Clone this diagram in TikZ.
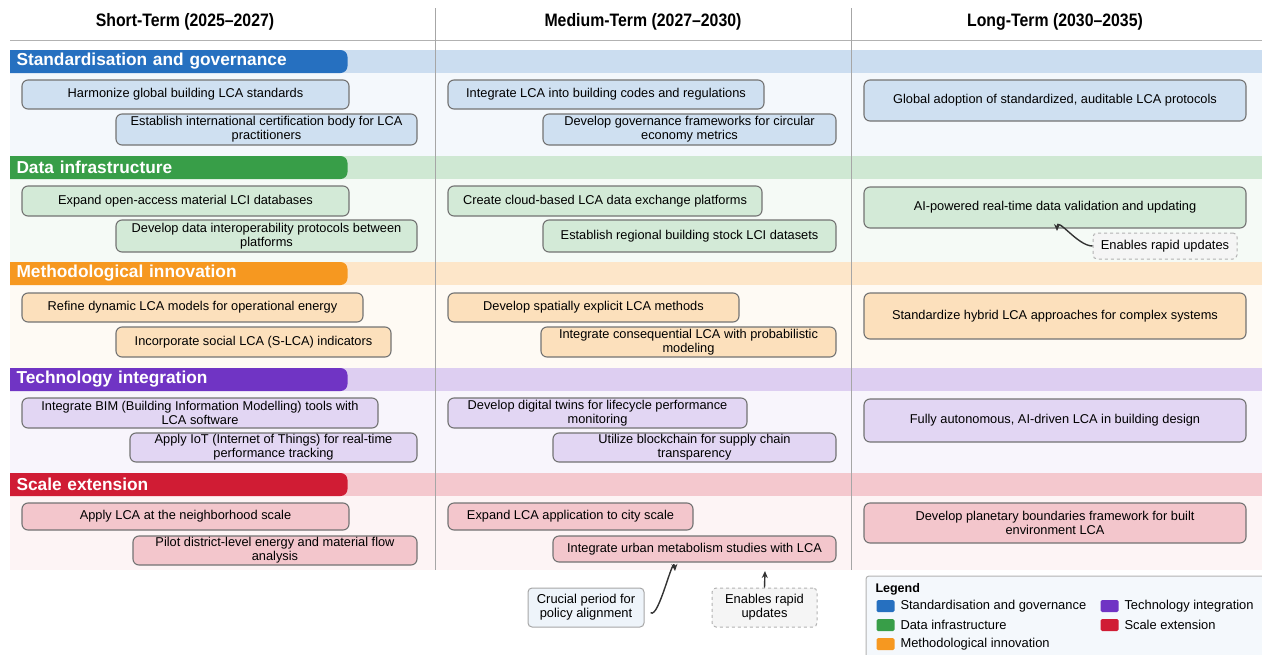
\documentclass[tikz,border=0pt]{standalone}
\usepackage{fontspec}
\setmainfont{Liberation Sans}
\newfontfamily\narrowfont{Liberation Sans}[FakeStretch=0.88, Ligatures=TeX]
\usetikzlibrary{arrows.meta,positioning}
\definecolor{sgblue}{RGB}{38,112,192}
\definecolor{digreen}{RGB}{56,158,72}
\definecolor{miorange}{RGB}{246,152,32}
\definecolor{tipurple}{RGB}{112,52,196}
\definecolor{sered}{RGB}{208,28,52}

\begin{document}
\begin{tikzpicture}[x=1pt, y=-1pt,
                    line width=1pt,
                    >={Stealth[length=7pt,width=6pt]},
                    ]
    \tikzstyle{task}=[rounded corners=6pt, draw=black!55, line width=1.1pt, align=center, inner sep=1pt, font=\fontsize{12.8}{14}\selectfont]
    \tikzstyle{sgtask}=[task, fill=sgblue!22];
    \tikzstyle{ditask}=[task, fill=digreen!22];
    \tikzstyle{mitask}=[task, fill=miorange!30];
    \tikzstyle{titask}=[task, fill=tipurple!20];
    \tikzstyle{setask}=[task, fill=sered!25];
    \tikzstyle{pill}=[rounded corners=7pt, text=white, anchor=west, minimum height=23pt, text width=315pt, inner xsep=16pt, inner ysep=0pt, font=\bfseries\fontsize{17.3}{18}\selectfont];
    \tikzstyle{colhead}=[font=\narrowfont\bfseries\fontsize{18}{20}\selectfont];
    \tikzstyle{note}=[rounded corners=4pt, draw=black!35, line width=1pt, fill=sgblue!8, align=center, inner sep=1pt, font=\fontsize{12.9}{14}\selectfont];
    \tikzstyle{notedash}=[note, dashed, draw=black!30, fill=black!4];
    \tikzstyle{swatch}=[minimum width=18pt, minimum height=12pt, rounded corners=1.5pt, inner sep=0pt, anchor=west];
    \tikzstyle{legtext}=[inner sep=0pt, font=\fontsize{12.9}{14}\selectfont];
    \tikzstyle{pointer}=[->, line width=1.4pt, black!80];

    \useasboundingbox (0,0) rectangle (1262,654);
    \clip (10,0) rectangle (1262,654);

    \foreach \tag/\col/\top/\bot/\name in {sg/sgblue/50/156/Standardisation and governance,
                                            di/digreen/156/262/Data infrastructure,
                                            mi/miorange/262/368/Methodological innovation,
                                            ti/tipurple/368/473/Technology integration,
                                            se/sered/473/570/Scale extension}{
        \fill[\col!5] (10,\top) rectangle (1262,\bot);
        \fill[\col!24] (10,\top) rectangle (1262,\top+23);
        \node[pill, fill=\col] (head\tag) at (0,\top+11.5) {\name};
    }

    \node[colhead] (short) at (185,22) {Short-Term (2025--2027)};
    \node[colhead] (medium) at (643,22) {Medium-Term (2027--2030)};
    \node[colhead] (long) at (1055,22) {Long-Term (2030--2035)};
    \draw[black!30] (10,40) -- (1262,40);
    \draw[black!35] (435,8) -- (435,570);
    \draw[black!35] (851,8) -- (851,570);

    \node[sgtask, minimum width=327pt, minimum height=29pt] (sg1) at (185.5,94.5) {Harmonize global building LCA standards};
    \node[sgtask, minimum width=301pt, minimum height=31pt] (sg2) at (266.5,129.5) {Establish international certification body for LCA\\practitioners};
    \node[sgtask, minimum width=316pt, minimum height=29pt] (sg3) at (606,94.5) {Integrate LCA into building codes and regulations};
    \node[sgtask, minimum width=293pt, minimum height=31pt] (sg4) at (689.5,129.5) {Develop governance frameworks for circular\\economy metrics};
    \node[sgtask, minimum width=382pt, minimum height=41pt] (sg5) at (1055,100.5) {Global adoption of standardized, auditable LCA protocols};

    \node[ditask, minimum width=327pt, minimum height=30pt] (di1) at (185.5,201) {Expand open-access material LCI databases};
    \node[ditask, minimum width=301pt, minimum height=32pt] (di2) at (266.5,236) {Develop data interoperability protocols between\\platforms};
    \node[ditask, minimum width=314pt, minimum height=30pt] (di3) at (605,201) {Create cloud-based LCA data exchange platforms};
    \node[ditask, minimum width=293pt, minimum height=32pt] (di4) at (689.5,236) {Establish regional building stock LCI datasets};
    \node[ditask, minimum width=382pt, minimum height=41pt] (di5) at (1055,207.5) {AI-powered real-time data validation and updating};

    \node[mitask, minimum width=341pt, minimum height=29pt] (mi1) at (192.5,307.5) {Refine dynamic LCA models for operational energy};
    \node[mitask, minimum width=275pt, minimum height=30pt] (mi2) at (253.5,342) {Incorporate social LCA (S-LCA) indicators};
    \node[mitask, minimum width=291pt, minimum height=29pt] (mi3) at (593.5,307.5) {Develop spatially explicit LCA methods};
    \node[mitask, minimum width=295pt, minimum height=30pt] (mi4) at (688.5,342) {Integrate consequential LCA with probabilistic\\modeling};
    \node[mitask, minimum width=382pt, minimum height=46pt] (mi5) at (1055,316) {Standardize hybrid LCA approaches for complex systems};

    \node[titask, minimum width=356pt, minimum height=30pt] (ti1) at (200,413) {Integrate BIM (Building Information Modelling) tools with\\LCA software};
    \node[titask, minimum width=287pt, minimum height=29pt] (ti2) at (273.5,447.5) {Apply IoT (Internet of Things) for real-time\\performance tracking};
    \node[titask, minimum width=299pt, minimum height=30pt] (ti3) at (597.5,413) {Develop digital twins for lifecycle performance\\monitoring};
    \node[titask, minimum width=283pt, minimum height=29pt] (ti4) at (694.5,447.5) {Utilize blockchain for supply chain\\transparency};
    \node[titask, minimum width=382pt, minimum height=43pt] (ti5) at (1055,420.5) {Fully autonomous, AI-driven LCA in building design};

    \node[setask, minimum width=327pt, minimum height=27pt] (se1) at (185.5,516.5) {Apply LCA at the neighborhood scale};
    \node[setask, minimum width=284pt, minimum height=29pt] (se2) at (275,550.5) {Pilot district-level energy and material flow\\analysis};
    \node[setask, minimum width=245pt, minimum height=27pt] (se3) at (570.5,516.5) {Expand LCA application to city scale};
    \node[setask, minimum width=283pt, minimum height=26pt] (se4) at (694.5,549) {Integrate urban metabolism studies with LCA};
    \node[setask, minimum width=382pt, minimum height=40pt] (se5) at (1055,523) {Develop planetary boundaries framework for built\\environment LCA};

    \node[notedash, minimum width=144pt, minimum height=26pt] (fastdi) at (1165,246) {Enables rapid updates};
    \node[note, minimum width=116pt, minimum height=39pt] (policy) at (586,607.5) {Crucial period for\\policy alignment};
    \node[notedash, minimum width=105pt, minimum height=39pt] (fastse) at (764.5,607.5) {Enables rapid\\updates};

    \coordinate (tipdi) at (1057,231);
    \coordinate (tippolicy) at (675,571);
    \coordinate (tipse) at (765,571);
    \draw[pointer] (fastdi.west) to[out=180, in=90] (tipdi);
    \draw[pointer, shorten <=8pt] (policy.east) to[out=-40, in=95] (tippolicy);
    \draw[pointer] (fastse.north) -- (tipse);

    \draw[black!30, fill=sgblue!5, rounded corners=3pt] (866,576) rectangle (1290,680);
    \node[anchor=west, inner sep=0pt, font=\bfseries\fontsize{12.5}{13.5}\selectfont] (legend) at (875,589) {Legend};
    \node[swatch, fill=sgblue] (lsg) at (876,606) {};
    \node[swatch, fill=digreen] (ldi) at (876,625) {};
    \node[swatch, fill=miorange] (lmi) at (876,644) {};
    \node[swatch, fill=tipurple] (lti) at (1100,606) {};
    \node[swatch, fill=sered] (lse) at (1100,625) {};
    \node[legtext, right=5pt of lsg] {Standardisation and governance};
    \node[legtext, right=5pt of ldi] {Data infrastructure};
    \node[legtext, right=5pt of lmi] {Methodological innovation};
    \node[legtext, right=5pt of lti] {Technology integration};
    \node[legtext, right=5pt of lse] {Scale extension};
\end{tikzpicture}
\end{document}
